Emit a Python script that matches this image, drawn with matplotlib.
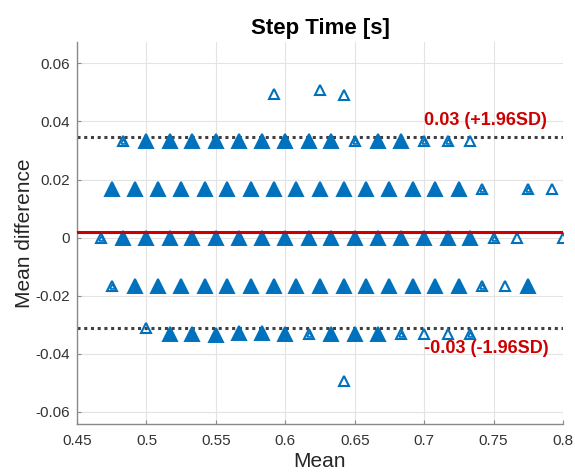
import matplotlib
matplotlib.use("Agg")
import matplotlib.pyplot as plt
import numpy as np

plt.rcParams["font.family"] = ["Liberation Sans", "DejaVu Sans"]

BLUE = "#0072BD"
RED = "#CC0000"

# Bland-Altman points, one row per difference level.
# n = how many steps fall on the same (mean, difference) spot.
x_p033 = [0.483, 0.500, 0.517, 0.533, 0.550, 0.567, 0.583, 0.600,
          0.617, 0.633, 0.650, 0.667, 0.683, 0.700, 0.717, 0.733]
n_p033 = [2, 3, 3, 3, 5, 5, 5, 3, 5, 5, 2, 5, 3, 2, 2, 1]

x_p017 = [0.475, 0.492, 0.508, 0.525, 0.542, 0.558, 0.575, 0.592,
          0.608, 0.625, 0.642, 0.658, 0.675, 0.692, 0.708, 0.725,
          0.742, 0.775, 0.792]
n_p017 = [6, 6, 6, 6, 6, 6, 6, 6, 6, 6, 6, 6, 6, 6, 6, 5, 2, 2, 1]

x_zero = [0.467, 0.483, 0.500, 0.517, 0.533, 0.550, 0.567, 0.583,
          0.600, 0.617, 0.633, 0.650, 0.667, 0.683, 0.700, 0.717,
          0.733, 0.750, 0.767, 0.800]
n_zero = [2, 3, 8, 8, 8, 8, 8, 8, 8, 8, 8, 8, 8, 8, 8, 8, 5, 2, 1, 1]

x_m017 = [0.475, 0.492, 0.508, 0.525, 0.542, 0.558, 0.575, 0.592,
          0.608, 0.625, 0.642, 0.658, 0.675, 0.692, 0.708, 0.725,
          0.742, 0.758, 0.775]
n_m017 = [2, 3, 6, 6, 6, 6, 6, 6, 6, 6, 6, 6, 6, 6, 3, 3, 2, 1, 3]

x_m033 = [0.500, 0.517, 0.533, 0.550, 0.567, 0.583, 0.600, 0.617,
          0.633, 0.650, 0.667, 0.683, 0.700, 0.717, 0.733]
y_m033 = [-0.0312, -0.0333, -0.0333, -0.0336, -0.0330, -0.0330, -0.0333, -0.0333,
          -0.0333, -0.0333, -0.0333, -0.0333, -0.0333, -0.0333, -0.0333]
n_m033 = [1, 5, 5, 3, 5, 5, 5, 2, 5, 5, 3, 2, 1, 1, 2]

x_out = [0.592, 0.625, 0.642, 0.642]
y_out = [0.0495, 0.0510, 0.0492, -0.0492]

mean_diff = 0.0018
half_loa = 0.033


def draw_points(ax, xs, ys, ns):
    xs, ys, ns = np.asarray(xs), np.asarray(ys), np.asarray(ns)
    dense = ns >= 3
    ax.plot(xs[dense], ys[dense], "^", ms=10, mfc=BLUE, mec=BLUE, mew=1.4,
            ls="none", zorder=3)
    sparse = ~dense
    ax.plot(xs[sparse], ys[sparse], "^", ms=7.5, mfc="none", mec=BLUE, mew=1.5,
            ls="none", zorder=3)
    pair = ns == 2
    ax.plot(xs[pair], ys[pair], "^", ms=3.5, mfc="none", mec=BLUE, mew=1.2,
            ls="none", zorder=3)


fig = plt.figure(figsize=(5.75, 4.76), dpi=100)
ax = fig.add_axes([0.134, 0.109, 0.845, 0.803])

draw_points(ax, x_p033, [0.0333] * len(x_p033), n_p033)
draw_points(ax, x_p017, [0.0167] * len(x_p017), n_p017)
draw_points(ax, x_zero, [0.0] * len(x_zero), n_zero)
draw_points(ax, x_m017, [-0.0167] * len(x_m017), n_m017)
draw_points(ax, x_m033, y_m033, n_m033)
draw_points(ax, x_out, y_out, [1] * len(x_out))

upper = mean_diff + half_loa
lower = mean_diff - half_loa
ax.axhline(mean_diff, color=RED, lw=2.2, zorder=4)
ax.axhline(upper, color="#404040", lw=2.2, ls=(0, (1, 1.2)), zorder=2)
ax.axhline(lower, color="#404040", lw=2.2, ls=(0, (1, 1.2)), zorder=2)

ax.text(0.700, upper + 0.0025, f"{upper:.2f} (+1.96SD)", color=RED,
        fontsize=13, fontweight="bold", va="bottom", ha="left")
ax.text(0.700, lower - 0.0042, f"{lower:.2f} (-1.96SD)", color=RED,
        fontsize=13, fontweight="bold", va="top", ha="left")

ax.set_xlim(0.45, 0.8)
ax.set_ylim(-0.0642, 0.0674)
ax.set_xticks(np.arange(0.45, 0.801, 0.05))
ax.set_xticklabels(["0.45", "0.5", "0.55", "0.6", "0.65", "0.7", "0.75", "0.8"])
ax.set_yticks(np.arange(-0.06, 0.061, 0.02))
ax.set_yticklabels(["-0.06", "-0.04", "-0.02", "0", "0.02", "0.04", "0.06"])

ax.grid(True, color="#e3e3e3", lw=0.8)
ax.set_axisbelow(True)
for side in ("top", "right"):
    ax.spines[side].set_visible(False)
for side in ("left", "bottom"):
    ax.spines[side].set_color("#8a8a8a")
    ax.spines[side].set_linewidth(1.0)
ax.tick_params(direction="in", length=3, color="#8a8a8a", labelsize=11,
               labelcolor="#333333", pad=5)
ax.tick_params(axis="x", pad=7)

ax.set_title("Step Time [s]", fontsize=16, fontweight="bold", pad=6)
ax.set_xlabel("Mean", fontsize=15, color="#262626", labelpad=3)
ax.set_ylabel("Mean difference", fontsize=15, color="#262626", labelpad=1)

fig.savefig("out.png", dpi=100)
